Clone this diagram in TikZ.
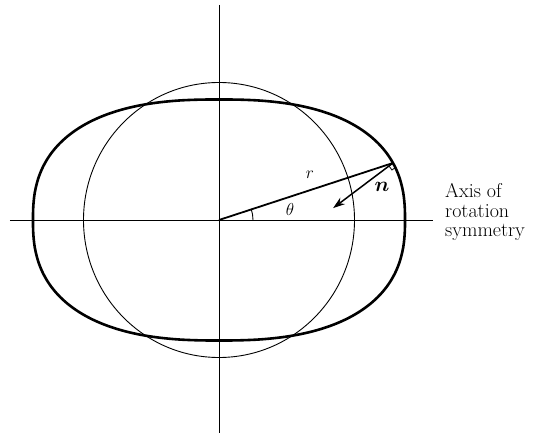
\documentclass[tikz,border=0pt]{standalone}
\usepackage{amsmath,amssymb}
\usetikzlibrary{arrows.meta,calc}

\begin{document}
\begin{tikzpicture}[x=1pt, y=1pt,
    axis/.style={line width=0.9pt},
    sphere/.style={line width=0.9pt},
    outline/.style={line width=2.6pt, line join=round},
    radiusline/.style={line width=1.8pt},
    normalvec/.style={line width=1.5pt, -{Stealth[length=12pt,width=8pt]}},
    lbl/.style={font=\LARGE, inner sep=0pt},
]
\useasboundingbox (-219,-213) rectangle (319,220);
% semi-axes and exponent of the deformed surface
\def\Ax{186}
\def\By{120.5}
\def\Ex{0.8}
\coordinate (O) at (0,0);
\coordinate (xl) at (-209,0);
\coordinate (xr) at (214,0);
\coordinate (yt) at (0,215);
\coordinate (yb) at (0,-213);
\coordinate (P) at ({\Ax*cos(23.1)^\Ex},{\By*sin(23.1)^\Ex});
\coordinate (Ntip) at ($(P)+(217:75)$);

% axes
\draw[axis] (xl) -- (xr);
\draw[axis] (yt) -- (yb);

% sphere and deformed surface
\draw[sphere] (O) ellipse[x radius=135.5, y radius=137.5];
\draw[outline] plot[domain=0:359, samples=360, smooth cycle, variable=\t]
    ({\Ax*sign(cos(\t))*abs(cos(\t))^\Ex},{\By*sign(sin(\t))*abs(sin(\t))^\Ex});

% radius vector, angle and normal
\draw[radiusline] (O) -- (P);
\draw[axis] ($(O)+(34,0)$) arc[start angle=0, end angle=19, radius=34];
\draw[normalvec] (P) -- (Ntip);
\draw[line width=0.8pt] ($(P)+(307:5)$) -- ++(217:5) -- ($(P)+(217:5)$);

\node[lbl] (rlab) at (91,45) {$r$};
\node[lbl] (thlab) at (71,10) {$\theta$};
\node[lbl, font=\huge] (nlab) at (163,33) {$\boldsymbol{n}$};
\node[lbl, font=\fontsize{20}{19.5}\selectfont, anchor=west, align=left]
    (axislab) at (226,8) {Axis of\\rotation\\symmetry};
\end{tikzpicture}
\end{document}
